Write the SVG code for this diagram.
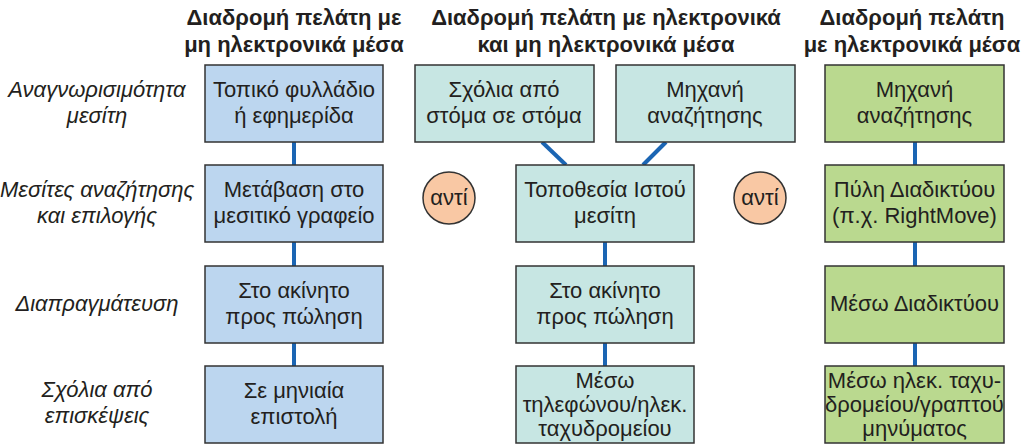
<svg xmlns="http://www.w3.org/2000/svg" width="1023" height="445" viewBox="0 0 1023 445">
<style>
.hd{font-family:"Liberation Sans",Arial,sans-serif;font-size:22px;font-weight:bold;fill:#231f20;text-anchor:middle}
.lb{font-family:"Liberation Sans",Arial,sans-serif;font-size:22px;font-style:italic;fill:#231f20;text-anchor:middle}
.tx{font-family:"Liberation Sans",Arial,sans-serif;font-size:22px;fill:#231f20;text-anchor:middle}
.b1{fill:#bcd6ef;stroke:#333;stroke-width:1.5}
.b2{fill:#c7e6e3;stroke:#333;stroke-width:1.5}
.b3{fill:#bad98f;stroke:#333;stroke-width:1.5}
.ci{fill:#f9c8a4;stroke:#333;stroke-width:1.5}
.cn{stroke:#1b65b3;stroke-width:4;fill:none}
</style>
<rect width="1023" height="445" fill="#fff"/>
<g id="headers">
<text class="hd" x="294" y="25">Διαδρομή πελάτη με</text>
<text class="hd" x="294" y="52">μη ηλεκτρονικά μέσα</text>
<text class="hd" x="606" y="25">Διαδρομή πελάτη με ηλεκτρονικά</text>
<text class="hd" x="606" y="52">και μη ηλεκτρονικά μέσα</text>
<text class="hd" x="912" y="25">Διαδρομή πελάτη</text>
<text class="hd" x="912" y="52">με ηλεκτρονικά μέσα</text>
</g>
<g id="row-labels">
<text class="lb" x="97" y="97">Αναγνωρισιμότητα</text>
<text class="lb" x="97" y="123">μεσίτη</text>
<text class="lb" x="97" y="197">Μεσίτες αναζήτησης</text>
<text class="lb" x="97" y="223">και επιλογής</text>
<text class="lb" x="97" y="311">Διαπραγμάτευση</text>
<text class="lb" x="97" y="397">Σχόλια από</text>
<text class="lb" x="97" y="423">επισκέψεις</text>
</g>
<g id="connectors">
<line class="cn" x1="294" y1="142" x2="294" y2="165"/>
<line class="cn" x1="294" y1="242" x2="294" y2="266"/>
<line class="cn" x1="294" y1="343" x2="294" y2="366"/>
<line class="cn" x1="542" y1="142" x2="566" y2="165"/>
<line class="cn" x1="666" y1="142" x2="643" y2="165"/>
<line class="cn" x1="605" y1="242" x2="605" y2="266"/>
<line class="cn" x1="605" y1="343" x2="605" y2="366"/>
<line class="cn" x1="915" y1="142" x2="915" y2="165"/>
<line class="cn" x1="915" y1="242" x2="915" y2="266"/>
<line class="cn" x1="915" y1="343" x2="915" y2="366"/>
</g>
<g id="c1-n1"><rect class="b1" x="205" y="65" width="178" height="77"/><text class="tx" x="294" y="97">Τοπικό φυλλάδιο</text><text class="tx" x="294" y="123">ή εφημερίδα</text></g>
<g id="c1-n2"><rect class="b1" x="205" y="165" width="178" height="77"/><text class="tx" x="294" y="197">Μετάβαση στο</text><text class="tx" x="294" y="223">μεσιτικό γραφείο</text></g>
<g id="c1-n3"><rect class="b1" x="205" y="266" width="178" height="77"/><text class="tx" x="294" y="298">Στο ακίνητο</text><text class="tx" x="294" y="324">προς πώληση</text></g>
<g id="c1-n4"><rect class="b1" x="205" y="366" width="178" height="77"/><text class="tx" x="294" y="398">Σε μηνιαία</text><text class="tx" x="294" y="424">επιστολή</text></g>
<g id="c2-n1"><rect class="b2" x="415" y="65" width="179" height="77"/><text class="tx" x="504" y="97">Σχόλια από</text><text class="tx" x="504" y="123">στόμα σε στόμα</text></g>
<g id="c2-n1b"><rect class="b2" x="616" y="65" width="179" height="77"/><text class="tx" x="705" y="97">Μηχανή</text><text class="tx" x="705" y="123">αναζήτησης</text></g>
<g id="c2-n2"><rect class="b2" x="516" y="165" width="178" height="77"/><text class="tx" x="605" y="197">Τοποθεσία Ιστού</text><text class="tx" x="605" y="223">μεσίτη</text></g>
<g id="c2-n3"><rect class="b2" x="516" y="266" width="178" height="77"/><text class="tx" x="605" y="298">Στο ακίνητο</text><text class="tx" x="605" y="324">προς πώληση</text></g>
<g id="c2-n4"><rect class="b2" x="516" y="366" width="178" height="77"/><text class="tx" x="605" y="388">Μέσω</text><text class="tx" x="605" y="412">τηλεφώνου/ηλεκ.</text><text class="tx" x="605" y="436">ταχυδρομείου</text></g>
<g id="c3-n1"><rect class="b3" x="825" y="65" width="179" height="77"/><text class="tx" x="914.5" y="97">Μηχανή</text><text class="tx" x="914.5" y="123">αναζήτησης</text></g>
<g id="c3-n2"><rect class="b3" x="825" y="165" width="179" height="77"/><text class="tx" x="914.5" y="197">Πύλη Διαδικτύου</text><text class="tx" x="914.5" y="223">(π.χ. RightMove)</text></g>
<g id="c3-n3"><rect class="b3" x="825" y="266" width="179" height="77"/><text class="tx" x="914.5" y="311">Μέσω Διαδικτύου</text></g>
<g id="c3-n4"><rect class="b3" x="825" y="366" width="179" height="77"/><text class="tx" x="914.5" y="388">Μέσω ηλεκ. ταχυ-</text><text class="tx" x="914.5" y="412">δρομείου/γραπτού</text><text class="tx" x="914.5" y="436">μηνύματος</text></g>
<g id="alt1"><circle class="ci" cx="449" cy="198" r="26"/><text class="tx" x="449" y="205">αντί</text></g>
<g id="alt2"><circle class="ci" cx="760" cy="198" r="26"/><text class="tx" x="760" y="205">αντί</text></g>
</svg>
